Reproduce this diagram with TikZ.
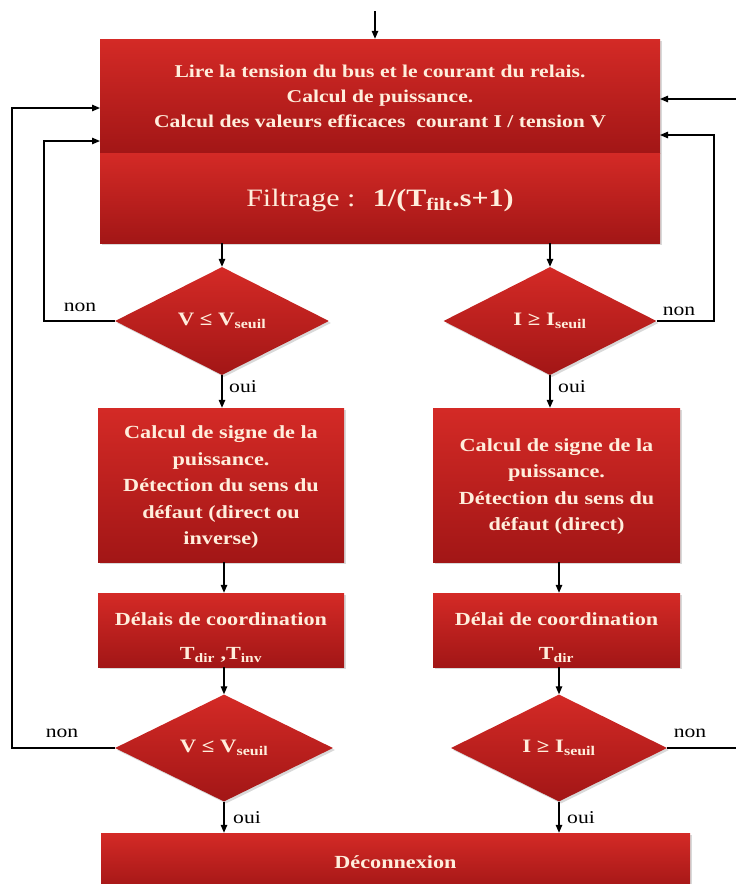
\documentclass[tikz,border=0pt]{standalone}
\usepackage{fontspec}
\setmainfont{Liberation Serif}[FakeStretch=1.2]
\usetikzlibrary{shapes.geometric,arrows.meta,shadows}
\definecolor{rtop}{RGB}{212,42,38}
\definecolor{rbot}{RGB}{162,22,22}
\definecolor{txtc}{RGB}{255,238,220}
\begin{document}
\begin{tikzpicture}[x=1pt,y=-1pt,
 base/.style={top color=rtop,bottom color=rbot,draw=none,text=txtc,align=center,inner sep=0pt,
   drop shadow={opacity=0.3,shadow xshift=2pt,shadow yshift=-2pt}},
 stepbox/.style={base,rectangle,font=\bfseries\fontsize{18.5}{26.5}\selectfont},
 decision/.style={base,diamond,aspect=2,font=\bfseries\fontsize{19}{22}\selectfont},
 lab/.style={font=\fontsize{18}{20}\selectfont,inner sep=0pt},
 arr/.style={-{Triangle[length=8pt,width=6.5pt]},line width=1.3pt},
 ln/.style={line width=1.3pt}]
\useasboundingbox (0,0) rectangle (736,884);

% boxes
\node[stepbox,minimum width=560pt,minimum height=114pt,font=\bfseries\fontsize{18}{25}\selectfont] (box1) at (380,96)
 {Lire la tension du bus et le courant du relais.\\
  Calcul de puissance.\\
  Calcul des valeurs efficaces\ \ courant I / tension V};
\node[stepbox,minimum width=560pt,minimum height=90pt] (filt) at (380,198)
 {\mdseries\fontsize{25}{30}\selectfont\rule{0pt}{22pt}Filtrage :\hspace{0.7em}\textbf{1/(T\textsubscript{filt}.s+1)}};

\node[decision,minimum width=214pt,minimum height=108pt] (L1) at (222,321) {V ≤ V\textsubscript{seuil}};
\node[decision,minimum width=213pt,minimum height=108pt] (R1) at (550,321) {I ≥ I\textsubscript{seuil}};

\node[stepbox,minimum width=246pt,minimum height=154pt] (box2L) at (221,485)
 {\rule{0pt}{17pt}Calcul de signe de la\\ puissance.\\ Détection du sens du\\ défaut (direct ou\\ inverse)};
\node[stepbox,minimum width=247pt,minimum height=154pt] (box2R) at (556.5,485)
 {\rule{0pt}{16pt}Calcul de signe de la\\ puissance.\\ Détection du sens du\\ défaut (direct)};

\node[stepbox,minimum width=246pt,minimum height=74pt,font=\bfseries\fontsize{18.5}{34}\selectfont] (box3L) at (221,630)
 {\rule{0pt}{28pt}Délais de coordination\\ T\textsubscript{dir} ,T\textsubscript{inv}};
\node[stepbox,minimum width=247pt,minimum height=74pt,font=\bfseries\fontsize{18.5}{34}\selectfont] (box3R) at (556.5,630)
 {\rule{0pt}{28pt}Délai de coordination\\ T\textsubscript{dir}};

\node[decision,minimum width=218pt,minimum height=107pt] (L2) at (224,748) {V ≤ V\textsubscript{seuil}};
\node[decision,minimum width=216pt,minimum height=107pt] (R2) at (559,748) {I ≥ I\textsubscript{seuil}};

\node[stepbox,minimum width=589pt,minimum height=58pt] (decon) at (395.5,862) {Déconnexion};

% labels
\node[lab] (non1) at (80,307) {non};
\node[lab] (non2) at (679,311) {non};
\node[lab] (oui1) at (243,387) {oui};
\node[lab] (oui2) at (572,387) {oui};
\node[lab] (non3) at (62,733) {non};
\node[lab] (non4) at (690,733) {non};
\node[lab] (oui3) at (247,818) {oui};
\node[lab] (oui4) at (581,818) {oui};

% coordinates
\coordinate (start) at (375,11);
\coordinate (inLo) at (100,108);
\coordinate (inLi) at (100,141);
\coordinate (inRo) at (660,99);
\coordinate (inRi) at (660,135);
\coordinate (edgeTop) at (736,99);
\coordinate (edgeBot) at (736,748);

% main flow
\draw[arr] (start) -- (start |- box1.north);
\draw[arr] (filt.south -| L1) -- (L1.north);
\draw[arr] (filt.south -| R1) -- (R1.north);
\draw[arr] (L1.south) -- (L1.south |- box2L.north);
\draw[arr] (R1.south) -- (R1.south |- box2R.north);
\draw[arr] (box2L.south -| L2) -- (box3L.north -| L2);
\draw[arr] (box2R.south -| R2) -- (box3R.north -| R2);
\draw[arr] (box3L.south -| L2) -- (L2.north);
\draw[arr] (box3R.south -| R2) -- (R2.north);
\draw[arr] (L2.south) -- (L2.south |- decon.north);
\draw[arr] (R2.south) -- (R2.south |- decon.north);

% feedback
\draw[arr] (L1.west) -- (44,321) -- (44,141) -- (inLi);
\draw[arr] (L2.west) -- (12,748) -- (12,108) -- (inLo);
\draw[arr] (R1.east) -- (714,321) -- (714,135) -- (inRi);
\draw[arr] (edgeTop) -- (inRo);
\draw[ln] (R2.east) -- (edgeBot);
\end{tikzpicture}
\end{document}
